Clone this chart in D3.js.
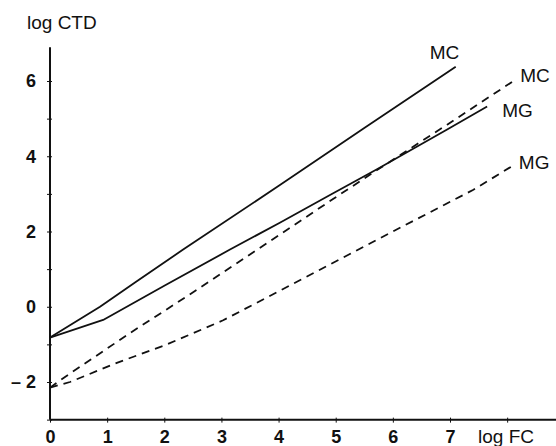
<!DOCTYPE html>
<html>
<head>
<meta charset="utf-8">
<script src="https://cdn.jsdelivr.net/npm/d3@7"></script>
<style>
  body { margin: 0; background: #fff; }
  svg { display: block; }
  .tick text { font-family: "Liberation Sans Narrow", "Liberation Sans", Arial, sans-serif; font-weight: bold; font-size: 18px; fill: #111; }
  .lbl { font-family: "Liberation Sans", Arial, sans-serif; font-size: 19px; fill: #111; }
</style>
</head>
<body>
<div id="chart"></div>
<script>
// values (log FC, log CTD)
var mcSolidX = [0, 0.875, 1.5, 2.33, 4.03, 5.5, 7.1];
var mcSolidY = [-0.82, 0.0, 0.66, 1.52, 3.24, 4.75, 6.38];
var mgSolidX = [0, 0.93, 2, 3.15, 4.03, 4.9, 5.73, 6.95, 7.65];
var mgSolidY = [-0.82, -0.35, 0.56, 1.52, 2.24, 2.97, 3.66, 4.71, 5.32];
var mcDashX = [0, 0.18, 1.4, 2.57, 3.63, 4.96, 5.73, 6.95, 8.09];
var mcDashY = [-2.15, -1.95, -0.7, 0.45, 1.52, 2.87, 3.64, 4.84, 5.98];
var mgDashX = [0, 0.35, 1.17, 2.0, 3.03, 4.33, 6.0, 7.41, 8.1];
var mgDashY = [-2.15, -2.0, -1.49, -1.03, -0.36, 0.67, 2.0, 3.11, 3.75];
var seriesNames = ["MC", "MG", "MC", "MG"];

var xTicks = [0, 1, 2, 3, 4, 5, 6, 7, 8];
var xTickLabels = ["0", "1", "2", "3", "4", "5", "6", "7", ""];
var yTicks = [-3, -2, -1, 0, 1, 2, 3, 4, 5, 6];
var yTickLabels = {"-2": "\u2013 2", "0": "0", "2": "2", "4": "4", "6": "6"};

var width = 556, height = 446;

var svg = d3.select("#chart").append("svg")
  .attr("width", width)
  .attr("height", height);

var x = d3.scaleLinear().domain([0, 7]).range([50, 450]);
var y = d3.scaleLinear().domain([-2, 6]).range([382, 81]);

var xMax = 8.95, yMin = -3, yMax = 6.9;

// axes
var xAxis = svg.append("g")
  .attr("transform", "translate(0," + y(yMin) + ")")
  .call(d3.axisBottom(x).tickValues(xTicks)
    .tickFormat(function(d, i) { return xTickLabels[i]; })
    .tickSizeInner(3).tickSizeOuter(0).tickPadding(8));
xAxis.select(".domain").remove();
xAxis.selectAll(".tick line").attr("y1", -2).attr("stroke", "#111");

var yAxis = svg.append("g")
  .attr("transform", "translate(" + x(0) + ",0)")
  .call(d3.axisLeft(y).tickValues(yTicks)
    .tickFormat(function(d) { return yTickLabels[d] || ""; })
    .tickSizeInner(3).tickSizeOuter(0).tickPadding(11));
yAxis.select(".domain").remove();
yAxis.selectAll(".tick line").attr("x1", 2).attr("stroke", "#111");

svg.append("line")
  .attr("x1", x(0)).attr("x2", x(xMax))
  .attr("y1", y(yMin)).attr("y2", y(yMin))
  .attr("stroke", "#111").attr("stroke-width", 2);
svg.append("line")
  .attr("x1", x(0)).attr("x2", x(0))
  .attr("y1", y(yMin)).attr("y2", y(yMax))
  .attr("stroke", "#111").attr("stroke-width", 2);

// axis titles
svg.append("text").attr("class", "lbl")
  .attr("x", 27).attr("y", 29).text("log CTD");
svg.append("text").attr("class", "lbl")
  .attr("x", 478).attr("y", 443).text("log FC");

// curves
var series = [
  {xs: mcSolidX, ys: mcSolidY, dash: null},
  {xs: mgSolidX, ys: mgSolidY, dash: null},
  {xs: mcDashX, ys: mcDashY, dash: "8,6"},
  {xs: mgDashX, ys: mgDashY, dash: "8,6"}
];
var labelOffsets = [[-26, -8], [15, 10], [8, 0], [6, 3]];

var line = d3.line()
  .x(function(d) { return x(d[0]); })
  .y(function(d) { return y(d[1]); });

series.forEach(function(s, i) {
  var pts = s.xs.map(function(v, j) { return [v, s.ys[j]]; });
  svg.append("path")
    .datum(pts)
    .attr("d", line)
    .attr("fill", "none")
    .attr("stroke", "#111")
    .attr("stroke-width", 1.8)
    .attr("stroke-linejoin", "round")
    .attr("stroke-dasharray", s.dash);
  var last = pts[pts.length - 1];
  svg.append("text").attr("class", "lbl")
    .attr("x", x(last[0]) + labelOffsets[i][0])
    .attr("y", y(last[1]) + labelOffsets[i][1])
    .text(seriesNames[i]);
});
</script>
</body>
</html>
